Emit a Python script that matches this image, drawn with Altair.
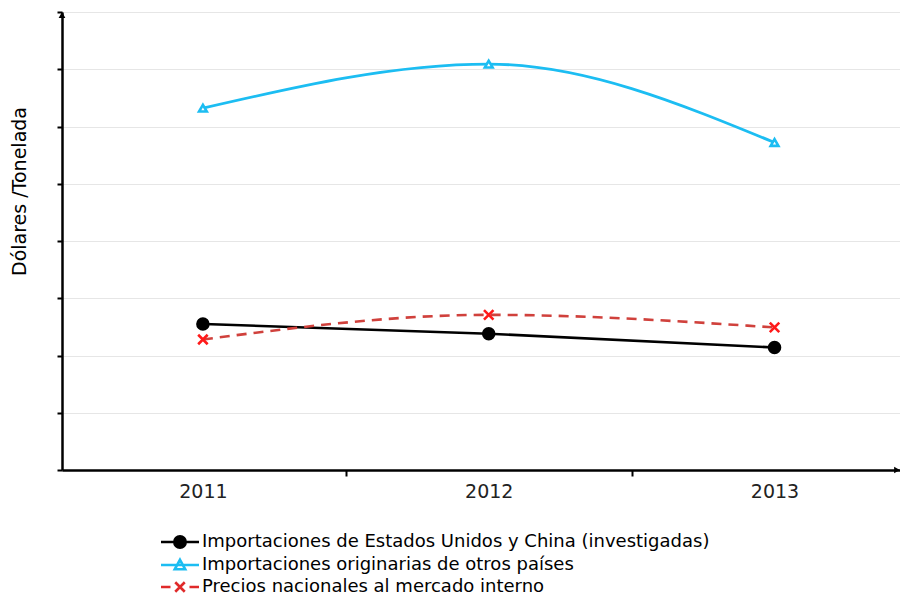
import altair as alt
import pandas as pd

# ---- data ----
years = [2011, 2012, 2013]
series_names = [
    "Importaciones de Estados Unidos y China (investigadas)",
    "Importaciones originarias de otros países",
    "Precios nacionales al mercado interno",
]
vals_eeuu_china = [2.55, 2.38, 2.14]
vals_otros = [6.32, 7.09, 5.72]
vals_nacionales = [2.28, 2.71, 2.49]

rows = []
for name, vals in zip(series_names, [vals_eeuu_china, vals_otros, vals_nacionales]):
    for y, v in zip(years, vals):
        rows.append({"serie": name, "anio": y, "valor": v})
df = pd.DataFrame(rows)

x_domain = [2010.507, 2013.439]
x_ticks = [2011, 2011.5, 2012, 2012.5, 2013]

FONT = "DejaVu Sans"

x_enc = alt.X(
    "anio:Q",
    scale=alt.Scale(domain=x_domain, nice=False, zero=False),
    axis=alt.Axis(
        values=x_ticks,
        title=None,
        grid=False,
        domainColor="black",
        domainWidth=2.5,
        tickColor="black",
        tickWidth=2,
        tickSize=6,
        tickOpacity={"condition": {"test": "datum.value % 1 === 0", "value": 0}, "value": 1},
        labelExpr="datum.value % 1 === 0 ? format(datum.value, 'd') : ''",
        labelFont=FONT,
        labelFontSize=19,
        labelColor="#222222",
        labelPadding=6,
    ),
)
y_enc = alt.Y(
    "valor:Q",
    scale=alt.Scale(domain=[0, 8], nice=False, zero=True),
    axis=alt.Axis(
        values=[0, 1, 2, 3, 4, 5, 6, 7, 8],
        labels=False,
        title="Dólares /Tonelada",
        titleFont=FONT,
        titleFontSize=19,
        titleFontWeight="normal",
        titleColor="black",
        titleX=-43,
        titleY=179,
        titleAngle=-90,
        titleAlign="center",
        titleBaseline="middle",
        grid=True,
        gridColor="#e6e6e6",
        gridWidth=1,
        domainColor="black",
        domainWidth=2.5,
        tickColor="black",
        tickWidth=2,
        tickSize=5,
    ),
)

base = alt.Chart(df)

styles = [
    # (line color, line width, dash, marker shape, marker size, marker fill, marker stroke, filled)
    ("#000000", 2.6, None, "circle", 120, "#000000", "#000000", True),
    ("#1cbdf2", 2.8, None, "triangle-up", 60, "#ffffff", "#1cbdf2", False),
    ("#d0413c", 2.6, [10, 7], "M-1,-1L1,1M-1,1L1,-1", 90, None, "#ff1a1a", False),
]

layers = []
for name, (lc, lw, dash, shp, sz, fill, stroke, filled) in zip(series_names, styles):
    sub = base.transform_filter(alt.datum.serie == name)
    line_kw = dict(interpolate="monotone", color=lc, strokeWidth=lw)
    if dash:
        line_kw["strokeDash"] = dash
    layers.append(sub.mark_line(**line_kw).encode(x=x_enc, y=y_enc))
    pt_kw = dict(shape=shp, size=sz, filled=filled, stroke=stroke, strokeWidth=2.6, opacity=1)
    if fill:
        pt_kw["fill"] = fill
    layers.append(sub.mark_point(**pt_kw).encode(x=x_enc, y=y_enc))

# legend layer (no visible data, only drives the legend)
legend_paths = [
    "M-2,0H2M0.6,0A0.6,0.6,0,1,1,-0.6,0A0.6,0.6,0,1,1,0.6,0Z",
    "M-2,0H2M0,-0.55L0.55,0.45L-0.55,0.45Z",
    "M-2,0H-1M1,0H2M-0.5,-0.5L0.5,0.5M-0.5,0.5L0.5,-0.5",
]
leg = alt.Legend(
    title=None,
    orient="none",
    legendX=107,
    legendY=519,
    direction="vertical",
    labelFont=FONT,
    labelFontSize=18,
    labelColor="black",
    labelLimit=900,
    labelOffset=11,
    symbolSize=361,
    symbolStrokeWidth=2.6,
    rowPadding=1,
)
legend_layer = base.transform_filter("datum.valor < 0").mark_point(
    filled=True, strokeWidth=2.6, opacity=1
).encode(
    x=x_enc,
    y=y_enc,
    shape=alt.Shape("serie:N", scale=alt.Scale(domain=series_names, range=legend_paths), legend=leg),
    fill=alt.Fill("serie:N", scale=alt.Scale(domain=series_names, range=["#000000", "#ffffff", "#ff1a1a"]), legend=leg),
    stroke=alt.Stroke("serie:N", scale=alt.Scale(domain=series_names, range=["#000000", "#1cbdf2", "#e02a2a"]), legend=leg),
)
layers.append(legend_layer)

# axis arrowheads
dummy = alt.Chart(pd.DataFrame({"a": [0]}))
arrow_up = dummy.mark_point(shape="triangle-up", filled=True, color="black", size=45, opacity=1).encode(
    x=alt.value(0), y=alt.value(3)
)
arrow_right = dummy.mark_point(shape="triangle-right", filled=True, color="black", size=45, opacity=1).encode(
    x=alt.value(835), y=alt.value(458)
)
layers += [arrow_up, arrow_right]

chart = alt.layer(*layers).properties(
    width=838,
    height=458,
    padding={"left": 54, "top": 4, "right": 0, "bottom": 127},
    autosize=alt.AutoSizeParams(type="none"),
).configure_view(stroke=None).configure(background="white")

chart.save("out.html", embed_options={"renderer": "svg", "actions": False})
